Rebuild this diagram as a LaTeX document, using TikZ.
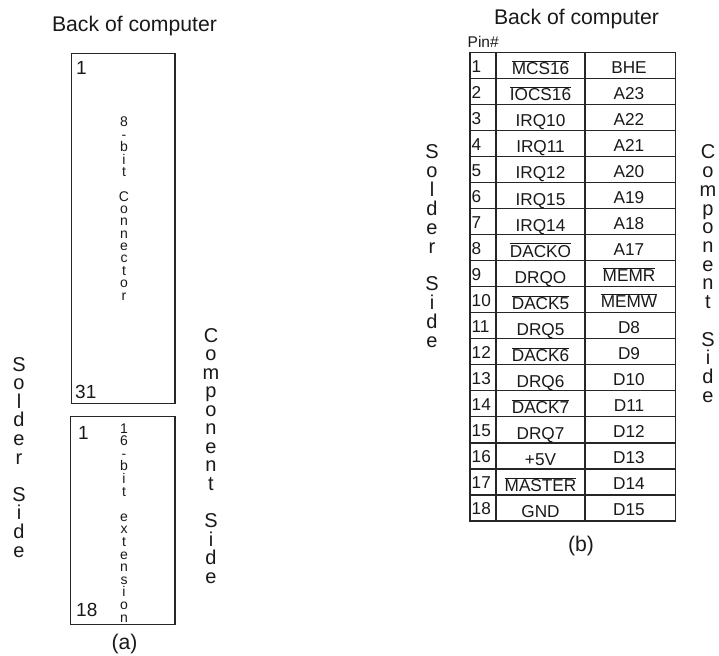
\documentclass[tikz,border=0pt]{standalone}
\usepackage{fontspec}
\setmainfont{Liberation Sans}
\newcommand{\olbar}[1]{$\overline{\mbox{#1}}$}
\begin{document}
\begin{tikzpicture}[x=1pt,y=-1pt,
  txt/.style={inner sep=0pt,anchor=base,text=black!90},
  big/.style={txt,font=\fontsize{21.2}{23}\selectfont},
  vbig/.style={txt,font=\fontsize{20}{22}\selectfont},
  vsmall/.style={txt,font=\fontsize{14}{16}\selectfont,text height=9pt,text depth=0pt},
  pinnum/.style={txt,font=\fontsize{19}{20}\selectfont,anchor=base west},
  cell/.style={txt,font=\fontsize{17.2}{20}\selectfont},
  box/.style={draw=black!85,line width=1.1pt},
  grid/.style={draw=black!85,line width=1.2pt}]
\useasboundingbox (0,0) rectangle (719,655);

% ---------- (a) ----------
\node[big] (backA) at (134.5,32) {Back of computer};
\draw[box] (71.7,53.3) rectangle (175,403.3);
\draw[box] (70.7,416.7) rectangle (175,624.3);
\node[pinnum] (a1) at (76,75) {1};
\node[pinnum] (a31) at (75,398) {31};
\node[pinnum] (b1) at (78,439) {1};
\node[pinnum] (b18) at (76,616) {18};
\foreach \c [count=\i] in {8,-,b,i,t,{},C,o,n,n,e,c,t,o,r}
  \node[vsmall] (conn-\i) at (124,{127+(\i-1)*12.36}) {\c};
\foreach \c [count=\i] in {1,6,-,b,i,t,{},e,x,t,e,n,s,i,o,n}
  \node[vsmall] (ext-\i) at (124,{433+(\i-1)*12.6}) {\c};
\foreach \c [count=\i] in {S,o,l,d,e,r,{},S,i,d,e}
  \node[vbig] (lsol-\i) at (19,{371+(\i-1)*18.6}) {\c};
\foreach \c [count=\i] in {C,o,m,p,o,n,e,n,t,{},S,i,d,e}
  \node[vbig] (lcomp-\i) at (211,{342+(\i-1)*18.55}) {\c};
\node[big] (capA) at (124.5,649) {(a)};

% ---------- (b) ----------
\node[big] (backB) at (576.5,25) {Back of computer};
\node[txt,font=\fontsize{15.5}{17}\selectfont,anchor=base west] (pin) at (467.5,48) {Pin\#};
\draw[grid] (470,52.3) rectangle (675.3,521);
\draw[grid] (496,52.3) -- (496,521);
\draw[grid] (585,52.3) -- (585,521);
\foreach \k in {1,...,17}
  \draw[grid] (470,{52.3+\k*26.04}) -- (675.3,{52.3+\k*26.04});
\foreach \l/\r [count=\i] in {
  {\olbar{MCS16}}/BHE,
  {\olbar{IOCS16}}/A23,
  IRQ10/A22,
  IRQ11/A21,
  IRQ12/A20,
  IRQ15/A19,
  IRQ14/A18,
  {\olbar{DACKO}}/A17,
  DRQO/{\olbar{MEMR}},
  {\olbar{DACK5}}/{\olbar{MEMW}},
  DRQ5/D8,
  {\olbar{DACK6}}/D9,
  DRQ6/D10,
  {\olbar{DACK7}}/D11,
  DRQ7/D12,
  +5V/D13,
  {\olbar{MASTER}}/D14,
  GND/D15}
{
  \node[cell,anchor=base west] (n-\i) at (471.5,{52.3+(\i-1)*26.04+20}) {\i};
  \node[cell] (l-\i) at (540.5,{52.3+(\i-1)*26.04+22.5}) {\l};
  \node[cell] (r-\i) at (629,{52.3+(\i-1)*26.04+21}) {\r};
}
\foreach \c [count=\i] in {S,o,l,d,e,r,{},S,i,d,e}
  \node[vbig] (rsol-\i) at (432,{159+(\i-1)*18.8}) {\c};
\foreach \c [count=\i] in {C,o,m,p,o,n,e,n,t,{},S,i,d,e}
  \node[vbig] (rcomp-\i) at (708,{159+(\i-1)*18.7}) {\c};
\node[big] (capB) at (581,551) {(b)};
\end{tikzpicture}
\end{document}
